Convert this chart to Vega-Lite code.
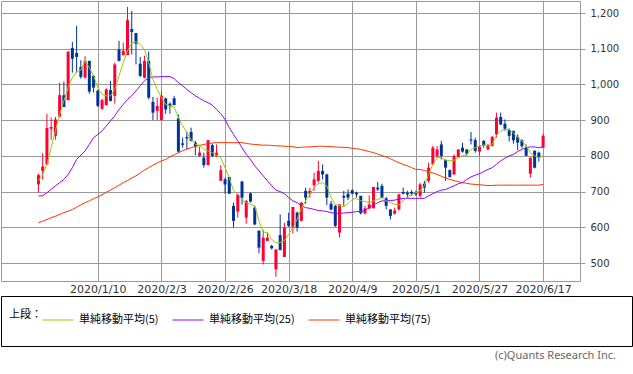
{
  "$schema": "https://vega.github.io/schema/vega-lite/v6.json",
  "padding": 0,
  "background": "white",
  "spacing": 0,
  "config": {
    "font": "DejaVu Sans",
    "axis": {"gridColor": "#999999", "gridOpacity": 1, "gridWidth": 1, "labelColor": "#333333", "domain": false},
    "view": {"stroke": "#999999"}
  },
  "resolve": {"scale": {"color": "independent"}, "legend": {"color": "independent"}},
  "vconcat": [
    {
      "width": 579,
      "height": 280,
      "view": {"stroke": "#999999"},
      "data": {"values": [
        {"i":0,"o":720,"h":750,"l":697,"c":746,"m5":730,"m25":688,"m75":613},
        {"i":1,"o":758,"h":807,"l":733,"c":770,"m5":748,"m25":688,"m75":617},
        {"i":2,"o":776,"h":918,"l":776,"c":878,"m5":776,"m25":697,"m75":622},
        {"i":3,"o":876,"h":907,"l":845,"c":881,"m5":823,"m25":706,"m75":627},
        {"i":4,"o":856,"h":909,"l":845,"c":902,"m5":870,"m25":716,"m75":631},
        {"i":5,"o":910,"h":1005,"l":907,"c":970,"m5":916,"m25":725,"m75":636},
        {"i":6,"o":970,"h":1008,"l":937,"c":937,"m5":954,"m25":734,"m75":641},
        {"i":7,"o":956,"h":1092,"l":956,"c":1092,"m5":991,"m25":748,"m75":645},
        {"i":8,"o":1102,"h":1119,"l":1033,"c":1072,"m5":1019,"m25":767,"m75":650},
        {"i":9,"o":1088,"h":1164,"l":1033,"c":1077,"m5":1036,"m25":790,"m75":656},
        {"i":10,"o":1049,"h":1068,"l":1016,"c":1021,"m5":1040,"m25":802,"m75":663},
        {"i":11,"o":1019,"h":1079,"l":1017,"c":1066,"m5":1066,"m25":814,"m75":669},
        {"i":12,"o":1066,"h":1066,"l":974,"c":980,"m5":1047,"m25":832,"m75":674},
        {"i":13,"o":1024,"h":1026,"l":977,"c":991,"m5":1024,"m25":851,"m75":680},
        {"i":14,"o":982,"h":986,"l":937,"c":940,"m5":991,"m25":860,"m75":685},
        {"i":15,"o":932,"h":960,"l":928,"c":956,"m5":972,"m25":870,"m75":691},
        {"i":16,"o":942,"h":989,"l":941,"c":986,"m5":968,"m25":884,"m75":698},
        {"i":17,"o":984,"h":1010,"l":952,"c":954,"m5":968,"m25":898,"m75":704},
        {"i":18,"o":968,"h":1061,"l":946,"c":1056,"m5":986,"m25":912,"m75":711},
        {"i":19,"o":1098,"h":1122,"l":1064,"c":1066,"m5":1024,"m25":930,"m75":718},
        {"i":20,"o":1082,"h":1117,"l":1082,"c":1094,"m5":1061,"m25":944,"m75":725},
        {"i":21,"o":1082,"h":1217,"l":1082,"c":1180,"m5":1094,"m25":958,"m75":731},
        {"i":22,"o":1155,"h":1206,"l":1084,"c":1147,"m5":1115,"m25":968,"m75":738},
        {"i":23,"o":1144,"h":1144,"l":1056,"c":1114,"m5":1120,"m25":982,"m75":744},
        {"i":24,"o":1058,"h":1077,"l":1021,"c":1024,"m5":1112,"m25":996,"m75":752},
        {"i":25,"o":1019,"h":1080,"l":1017,"c":1066,"m5":1098,"m25":1010,"m75":760},
        {"i":26,"o":1066,"h":1092,"l":958,"c":963,"m5":1061,"m25":1019,"m75":767},
        {"i":27,"o":951,"h":965,"l":900,"c":921,"m5":1014,"m25":1021,"m75":774},
        {"i":28,"o":926,"h":963,"l":900,"c":940,"m5":986,"m25":1021,"m75":780},
        {"i":29,"o":900,"h":980,"l":900,"c":968,"m5":963,"m25":1022,"m75":786},
        {"i":30,"o":961,"h":963,"l":918,"c":930,"m5":944,"m25":1022,"m75":790},
        {"i":31,"o":946,"h":950,"l":918,"c":939,"m5":940,"m25":1022,"m75":797},
        {"i":32,"o":961,"h":968,"l":942,"c":942,"m5":937,"m25":1016,"m75":803},
        {"i":33,"o":905,"h":916,"l":809,"c":812,"m5":907,"m25":1005,"m75":809},
        {"i":34,"o":835,"h":851,"l":823,"c":831,"m5":884,"m25":996,"m75":814},
        {"i":35,"o":853,"h":868,"l":818,"c":849,"m5":865,"m25":986,"m75":819},
        {"i":36,"o":867,"h":879,"l":840,"c":842,"m5":846,"m25":977,"m75":823},
        {"i":37,"o":837,"h":842,"l":802,"c":826,"m5":832,"m25":968,"m75":826},
        {"i":38,"o":800,"h":826,"l":797,"c":809,"m5":830,"m25":961,"m75":829},
        {"i":39,"o":795,"h":809,"l":767,"c":774,"m5":818,"m25":954,"m75":832},
        {"i":40,"o":774,"h":844,"l":774,"c":844,"m5":814,"m25":949,"m75":834},
        {"i":41,"o":830,"h":834,"l":797,"c":800,"m5":809,"m25":942,"m75":836},
        {"i":42,"o":800,"h":832,"l":797,"c":809,"m5":802,"m25":930,"m75":837},
        {"i":43,"o":730,"h":774,"l":730,"c":760,"m5":795,"m25":918,"m75":837},
        {"i":44,"o":734,"h":739,"l":694,"c":720,"m5":767,"m25":902,"m75":837},
        {"i":45,"o":741,"h":741,"l":694,"c":694,"m5":739,"m25":879,"m75":837},
        {"i":46,"o":660,"h":669,"l":599,"c":618,"m5":702,"m25":860,"m75":837},
        {"i":47,"o":644,"h":694,"l":627,"c":692,"m5":692,"m25":842,"m75":837},
        {"i":48,"o":728,"h":730,"l":664,"c":683,"m5":678,"m25":823,"m75":837},
        {"i":49,"o":627,"h":676,"l":610,"c":674,"m5":669,"m25":804,"m75":835},
        {"i":50,"o":695,"h":697,"l":669,"c":672,"m5":664,"m25":790,"m75":833},
        {"i":51,"o":655,"h":660,"l":606,"c":608,"m5":660,"m25":772,"m75":832},
        {"i":52,"o":590,"h":592,"l":527,"c":543,"m5":618,"m25":758,"m75":831},
        {"i":53,"o":506,"h":592,"l":496,"c":571,"m5":587,"m25":744,"m75":830},
        {"i":54,"o":562,"h":585,"l":562,"c":571,"m5":585,"m25":730,"m75":830},
        {"i":55,"o":548,"h":551,"l":538,"c":541,"m5":566,"m25":716,"m75":829},
        {"i":56,"o":482,"h":538,"l":461,"c":538,"m5":557,"m25":704,"m75":828},
        {"i":57,"o":578,"h":636,"l":536,"c":536,"m5":557,"m25":700,"m75":828},
        {"i":58,"o":517,"h":613,"l":517,"c":599,"m5":563,"m25":694,"m75":827},
        {"i":59,"o":618,"h":641,"l":601,"c":604,"m5":580,"m25":683,"m75":826},
        {"i":60,"o":599,"h":657,"l":582,"c":657,"m5":599,"m25":674,"m75":826},
        {"i":61,"o":641,"h":644,"l":588,"c":599,"m5":622,"m25":669,"m75":823},
        {"i":62,"o":618,"h":671,"l":618,"c":669,"m5":653,"m25":660,"m75":824},
        {"i":63,"o":702,"h":711,"l":666,"c":683,"m5":674,"m25":655,"m75":825},
        {"i":64,"o":694,"h":711,"l":683,"c":702,"m5":694,"m25":653,"m75":825},
        {"i":65,"o":718,"h":753,"l":702,"c":734,"m5":711,"m25":650,"m75":826},
        {"i":66,"o":730,"h":786,"l":725,"c":758,"m5":722,"m25":647,"m75":827},
        {"i":67,"o":758,"h":776,"l":734,"c":748,"m5":725,"m25":646,"m75":827},
        {"i":68,"o":748,"h":750,"l":662,"c":683,"m5":716,"m25":644,"m75":826},
        {"i":69,"o":666,"h":674,"l":647,"c":650,"m5":683,"m25":641,"m75":826},
        {"i":70,"o":660,"h":662,"l":601,"c":604,"m5":664,"m25":639,"m75":825},
        {"i":71,"o":585,"h":664,"l":571,"c":664,"m5":660,"m25":639,"m75":824},
        {"i":72,"o":688,"h":702,"l":660,"c":683,"m5":657,"m25":640,"m75":824},
        {"i":73,"o":694,"h":706,"l":676,"c":683,"m5":666,"m25":641,"m75":823},
        {"i":74,"o":704,"h":706,"l":692,"c":694,"m5":678,"m25":642,"m75":821},
        {"i":75,"o":697,"h":700,"l":683,"c":692,"m5":681,"m25":644,"m75":820},
        {"i":76,"o":688,"h":688,"l":636,"c":639,"m5":674,"m25":644,"m75":818},
        {"i":77,"o":639,"h":660,"l":636,"c":653,"m5":672,"m25":647,"m75":815},
        {"i":78,"o":653,"h":689,"l":650,"c":664,"m5":669,"m25":655,"m75":812},
        {"i":79,"o":653,"h":713,"l":653,"c":713,"m5":674,"m25":662,"m75":809},
        {"i":80,"o":711,"h":727,"l":702,"c":706,"m5":678,"m25":669,"m75":805},
        {"i":81,"o":716,"h":722,"l":683,"c":683,"m5":683,"m25":674,"m75":801},
        {"i":82,"o":681,"h":685,"l":650,"c":660,"m5":674,"m25":674,"m75":797},
        {"i":83,"o":650,"h":650,"l":622,"c":632,"m5":669,"m25":675,"m75":792},
        {"i":84,"o":638,"h":655,"l":636,"c":647,"m5":664,"m25":676,"m75":786},
        {"i":85,"o":650,"h":694,"l":647,"c":692,"m5":662,"m25":679,"m75":781},
        {"i":86,"o":699,"h":711,"l":692,"c":694,"m5":674,"m25":681,"m75":776},
        {"i":87,"o":697,"h":702,"l":683,"c":692,"m5":685,"m25":681,"m75":772},
        {"i":88,"o":699,"h":704,"l":688,"c":694,"m5":692,"m25":681,"m75":767},
        {"i":89,"o":697,"h":703,"l":688,"c":692,"m5":697,"m25":681,"m75":762},
        {"i":90,"o":688,"h":725,"l":683,"c":720,"m5":702,"m25":681,"m75":762},
        {"i":91,"o":722,"h":730,"l":697,"c":711,"m5":716,"m25":681,"m75":759},
        {"i":92,"o":730,"h":781,"l":725,"c":767,"m5":748,"m25":688,"m75":756},
        {"i":93,"o":776,"h":828,"l":776,"c":823,"m5":776,"m25":694,"m75":752},
        {"i":94,"o":800,"h":828,"l":795,"c":818,"m5":795,"m25":700,"m75":748},
        {"i":95,"o":832,"h":842,"l":790,"c":800,"m5":795,"m25":704,"m75":743},
        {"i":96,"o":788,"h":790,"l":730,"c":767,"m5":788,"m25":706,"m75":738},
        {"i":97,"o":760,"h":762,"l":739,"c":741,"m5":786,"m25":711,"m75":734},
        {"i":98,"o":748,"h":804,"l":746,"c":800,"m5":788,"m25":716,"m75":731},
        {"i":99,"o":797,"h":818,"l":795,"c":818,"m5":795,"m25":722,"m75":728},
        {"i":100,"o":823,"h":837,"l":809,"c":812,"m5":800,"m25":725,"m75":725},
        {"i":101,"o":818,"h":818,"l":800,"c":806,"m5":804,"m25":734,"m75":723},
        {"i":102,"o":846,"h":867,"l":832,"c":843,"m5":818,"m25":741,"m75":721},
        {"i":103,"o":844,"h":851,"l":809,"c":814,"m5":823,"m25":746,"m75":720},
        {"i":104,"o":812,"h":828,"l":800,"c":826,"m5":828,"m25":750,"m75":719},
        {"i":105,"o":842,"h":844,"l":823,"c":830,"m5":830,"m25":756,"m75":718},
        {"i":106,"o":818,"h":834,"l":817,"c":830,"m5":830,"m25":762,"m75":717},
        {"i":107,"o":828,"h":856,"l":826,"c":853,"m5":832,"m25":767,"m75":717},
        {"i":108,"o":860,"h":921,"l":851,"c":907,"m5":858,"m25":776,"m75":718},
        {"i":109,"o":909,"h":921,"l":886,"c":888,"m5":870,"m25":786,"m75":718},
        {"i":110,"o":890,"h":902,"l":870,"c":876,"m5":874,"m25":793,"m75":718},
        {"i":111,"o":872,"h":877,"l":840,"c":856,"m5":874,"m25":800,"m75":718},
        {"i":112,"o":870,"h":870,"l":834,"c":844,"m5":865,"m25":804,"m75":718},
        {"i":113,"o":853,"h":860,"l":816,"c":837,"m5":851,"m25":812,"m75":718},
        {"i":114,"o":844,"h":846,"l":821,"c":827,"m5":842,"m25":818,"m75":718},
        {"i":115,"o":823,"h":832,"l":800,"c":800,"m5":828,"m25":823,"m75":718},
        {"i":116,"o":750,"h":795,"l":739,"c":795,"m5":809,"m25":825,"m75":718},
        {"i":117,"o":814,"h":816,"l":765,"c":767,"m5":800,"m25":825,"m75":718},
        {"i":118,"o":809,"h":812,"l":784,"c":795,"m5":795,"m25":823,"m75":718},
        {"i":119,"o":823,"h":862,"l":823,"c":856,"m5":800,"m25":825,"m75":720}
      ]},
      "encoding": {
        "x": {
          "field": "i", "type": "quantitative",
          "scale": {"domain": [-8.83, 127.7], "nice": false, "zero": false, "padding": 0},
          "axis": {
            "title": null, "orient": "bottom", "grid": true, "ticks": false,
            "values": [14, 29, 44, 59, 74, 89, 104, 119],
            "labelExpr": "['2020/1/10','2020/2/3','2020/2/26','2020/3/18','2020/4/9','2020/5/1','2020/5/27','2020/6/17'][(datum.value-14)/15]",
            "labelFontSize": 11, "labelPadding": 2, "labelFlush": false
          }
        }
      },
      "layer": [
        {
          "mark": {"type": "rule", "strokeWidth": 1},
          "encoding": {
            "y": {
              "field": "l", "type": "quantitative",
              "scale": {"domain": [449.6, 1233.6], "nice": false, "zero": false, "padding": 0},
              "axis": {"title": null, "orient": "right", "grid": true, "values": [500, 600, 700, 800, 900, 1000, 1100, 1200], "format": ",d", "tickSize": 5, "tickColor": "#999999", "labelFontSize": 10, "labelPadding": 5}
            },
            "y2": {"field": "h"},
            "color": {"condition": {"test": "datum.c >= datum.o", "value": "#ff0033"}, "value": "#003399"}
          }
        },
        {
          "mark": {"type": "bar", "size": 3},
          "encoding": {
            "y": {
              "field": "o", "type": "quantitative",
              "scale": {"domain": [449.6, 1233.6], "nice": false, "zero": false, "padding": 0},
              "axis": {"title": null, "orient": "right", "grid": true, "values": [500, 600, 700, 800, 900, 1000, 1100, 1200], "format": ",d", "tickSize": 5, "tickColor": "#999999", "labelFontSize": 10, "labelPadding": 5}
            },
            "y2": {"field": "c"},
            "color": {"condition": {"test": "datum.c >= datum.o", "value": "#ff0033"}, "value": "#003399"}
          }
        },
        {
          "mark": {"type": "line", "color": "#ff3300", "strokeWidth": 1},
          "encoding": {"y": {
            "field": "m75", "type": "quantitative",
            "scale": {"domain": [449.6, 1233.6], "nice": false, "zero": false, "padding": 0},
            "axis": {"title": null, "orient": "right", "grid": true, "values": [500, 600, 700, 800, 900, 1000, 1100, 1200], "format": ",d", "tickSize": 5, "tickColor": "#999999", "labelFontSize": 10, "labelPadding": 5}
          }}
        },
        {
          "mark": {"type": "line", "color": "#9900ff", "strokeWidth": 1},
          "encoding": {"y": {
            "field": "m25", "type": "quantitative",
            "scale": {"domain": [449.6, 1233.6], "nice": false, "zero": false, "padding": 0},
            "axis": {"title": null, "orient": "right", "grid": true, "values": [500, 600, 700, 800, 900, 1000, 1100, 1200], "format": ",d", "tickSize": 5, "tickColor": "#999999", "labelFontSize": 10, "labelPadding": 5}
          }}
        },
        {
          "mark": {"type": "line", "color": "#99cc00", "strokeWidth": 1},
          "encoding": {"y": {
            "field": "m5", "type": "quantitative",
            "scale": {"domain": [449.6, 1233.6], "nice": false, "zero": false, "padding": 0},
            "axis": {"title": null, "orient": "right", "grid": true, "values": [500, 600, 700, 800, 900, 1000, 1100, 1200], "format": ",d", "tickSize": 5, "tickColor": "#999999", "labelFontSize": 10, "labelPadding": 5}
          }}
        }
      ]
    },
    {
      "width": 631,
      "height": 50,
      "view": {"stroke": "#000000", "strokeWidth": 1},
      "title": {
        "text": "(c)Quants Research Inc.", "orient": "bottom", "anchor": "end",
        "fontSize": 11, "fontWeight": "normal", "color": "#666666", "font": "Noto Sans",
        "offset": 4, "dx": -16
      },
      "data": {"values": [
        {"s": "単純移動平均(5)"},
        {"s": "単純移動平均(25)"},
        {"s": "単純移動平均(75)"}
      ]},
      "mark": {"type": "line", "strokeWidth": 1},
      "encoding": {
        "color": {
          "field": "s", "type": "nominal",
          "scale": {"domain": ["単純移動平均(5)", "単純移動平均(25)", "単純移動平均(75)"], "range": ["#99cc00", "#9900ff", "#ff3300"]},
          "legend": {
            "title": "上段：", "orient": "top-left", "offset": 0, "padding": 8,
            "direction": "horizontal", "titleOrient": "left",
            "titleFont": "Noto Sans CJK JP", "titleFontSize": 11, "titleFontWeight": "normal", "titleColor": "#000000", "titlePadding": 0,
            "labelFont": "Noto Sans CJK JP", "labelFontSize": 11, "labelColor": "#000000", "labelOffset": 5, "labelLimit": 200,
            "symbolType": "stroke", "symbolSize": 961, "symbolStrokeWidth": 1, "symbolOpacity": 1,
            "columnPadding": 11, "gridAlign": "none"
          }
        }
      }
    }
  ]
}
